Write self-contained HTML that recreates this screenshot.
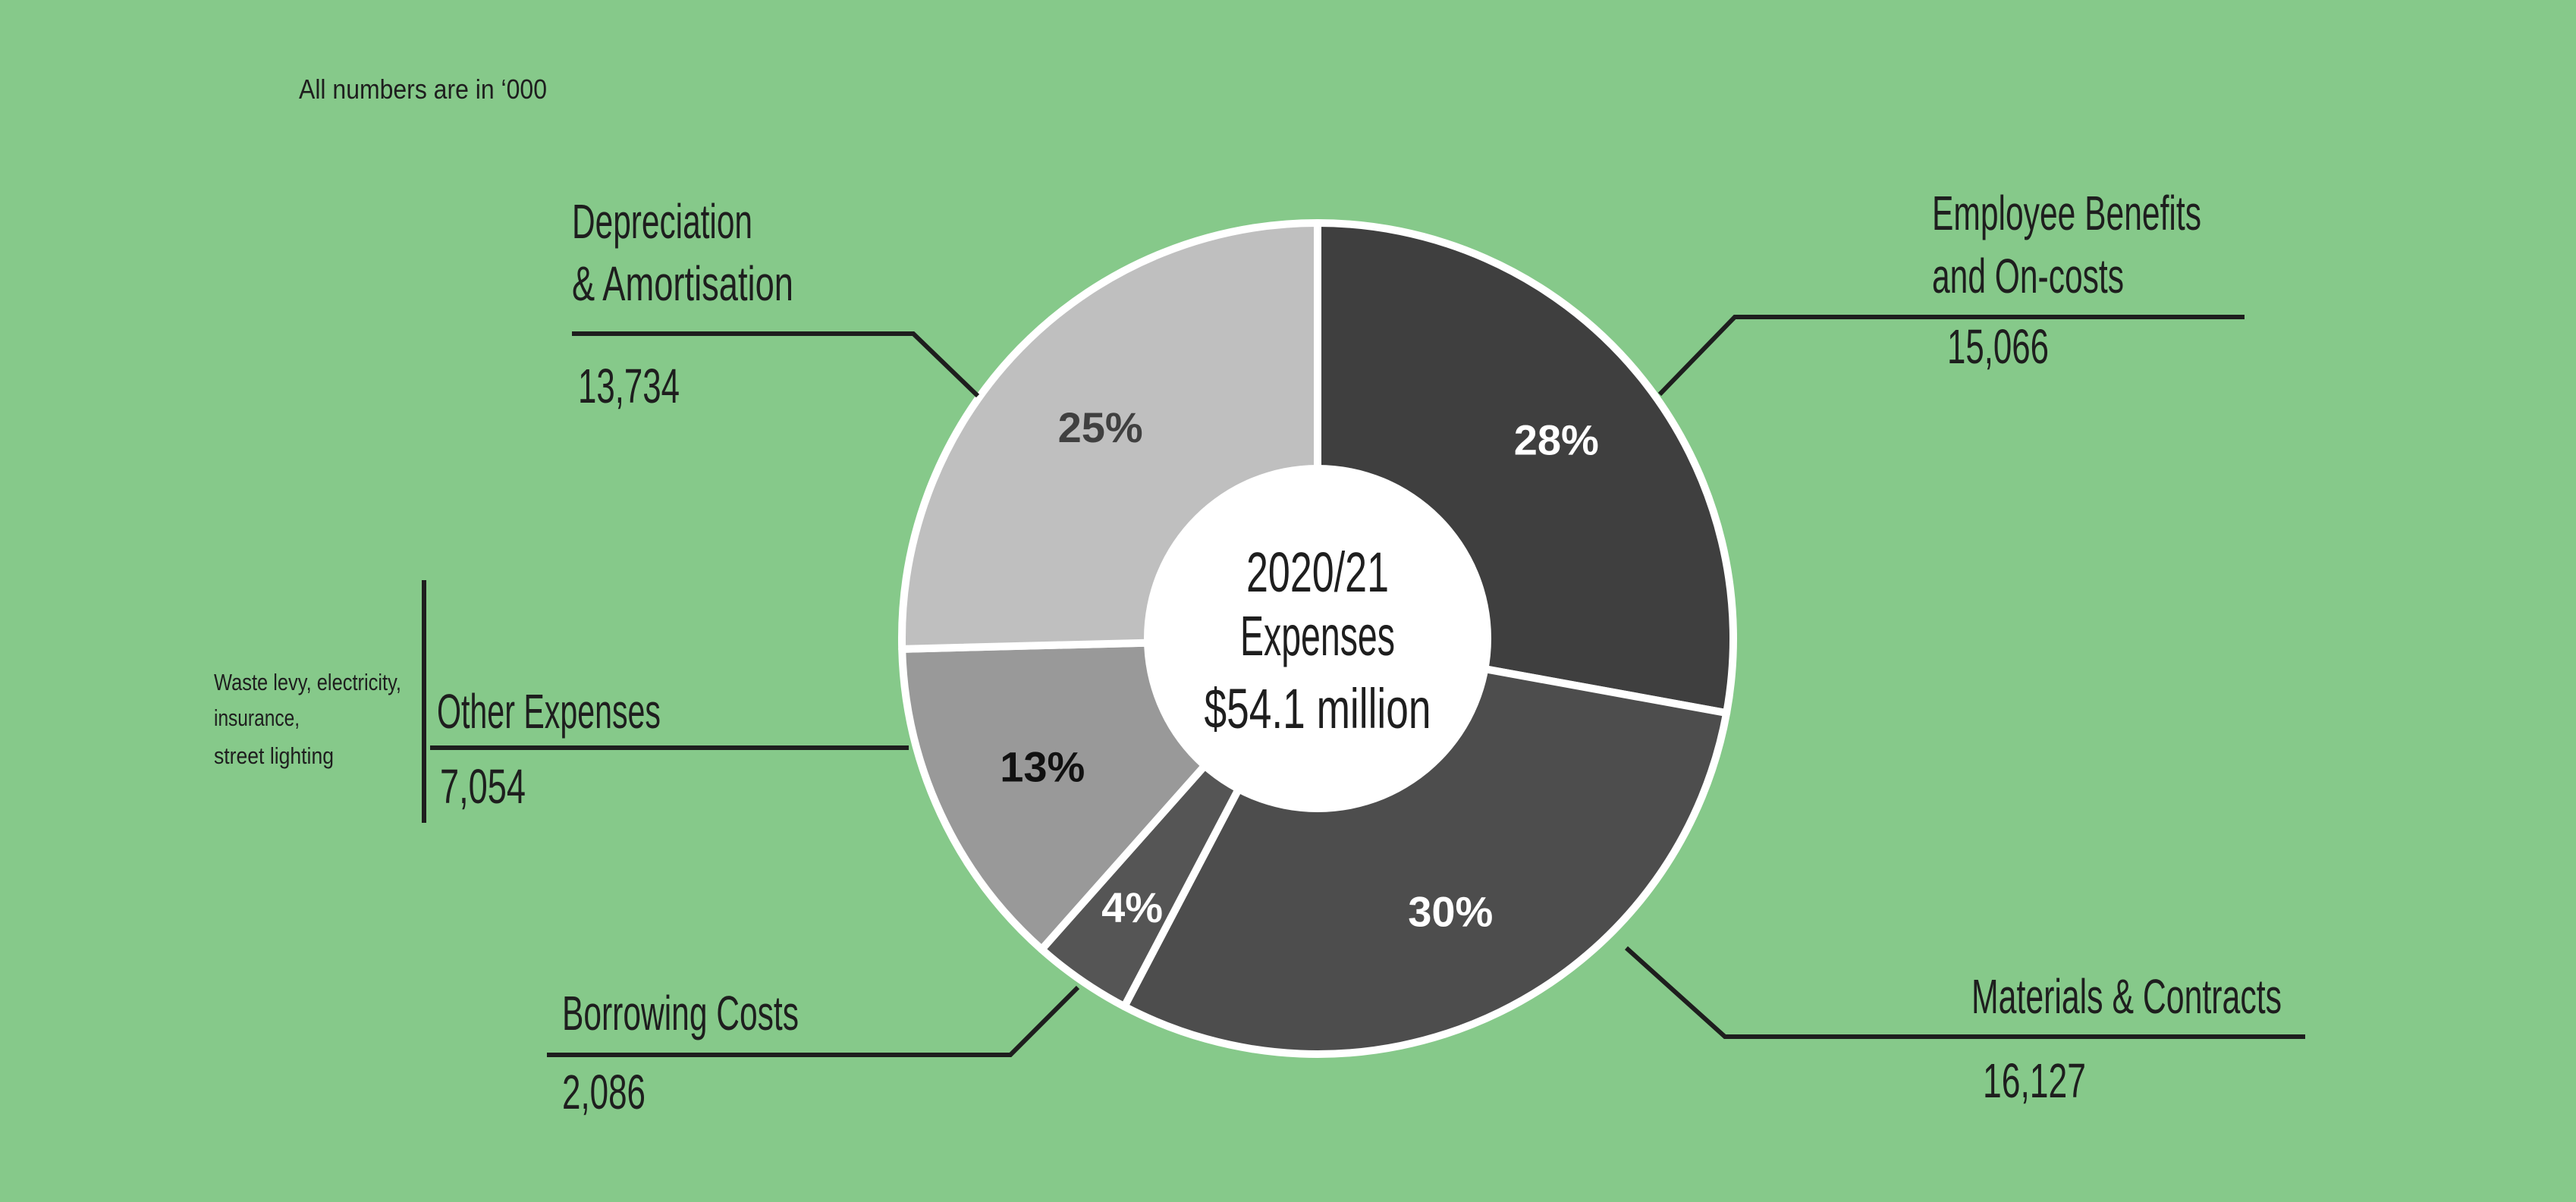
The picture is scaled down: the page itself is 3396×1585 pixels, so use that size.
<!DOCTYPE html>
<html><head><meta charset="utf-8"><style>
html,body{margin:0;padding:0;background:#86c98a;}
svg{display:block;}
.l{font-family:"Liberation Sans Narrow","Liberation Sans",sans-serif;fill:#1e1e1e;}
.p{font-family:"Liberation Sans",sans-serif;font-weight:bold;font-size:56px;text-anchor:middle;}
</style></head><body>
<svg id="chart" width="3396" height="1585" viewBox="0 0 3396 1585" xmlns="http://www.w3.org/2000/svg">
<rect width="3396" height="1585" fill="#86c98a"/>
<g id="slices"></g>
<circle cx="1737" cy="842" r="229" fill="#ffffff"/>
<g id="pcts"></g>

<text class="l" x="394" y="130" font-size="36" textLength="327" lengthAdjust="spacingAndGlyphs">All numbers are in ‘000</text>

<g font-size="74">
<text class="l" x="1737" y="780" text-anchor="middle" textLength="188" lengthAdjust="spacingAndGlyphs">2020/21</text>
<text class="l" x="1737" y="864" text-anchor="middle" textLength="204" lengthAdjust="spacingAndGlyphs">Expenses</text>
<text class="l" x="1737" y="960" text-anchor="middle" textLength="299" lengthAdjust="spacingAndGlyphs">$54.1 million</text>
</g>

<g fill="none" stroke="#1e1e1e" stroke-width="6">
<polyline points="754,440 1204,440 1289,522"/>
<polyline points="2188,520 2287,418 2959,418"/>
<line x1="559" y1="765" x2="559" y2="1085"/>
<line x1="567" y1="986" x2="1198" y2="986"/>
<polyline points="721,1391 1332,1391 1421,1302"/>
<polyline points="2144,1250 2274,1367 3039,1367"/>
</g>

<g font-size="64">
<text class="l" x="754" y="314" textLength="238" lengthAdjust="spacingAndGlyphs">Depreciation</text>
<text class="l" x="754" y="396" textLength="292" lengthAdjust="spacingAndGlyphs">&amp; Amortisation</text>
<text class="l" x="762" y="531" textLength="134" lengthAdjust="spacingAndGlyphs">13,734</text>
<text class="l" x="2547" y="303" textLength="355" lengthAdjust="spacingAndGlyphs">Employee Benefits</text>
<text class="l" x="2547" y="386" textLength="253" lengthAdjust="spacingAndGlyphs">and On-costs</text>
<text class="l" x="2567" y="479" textLength="134" lengthAdjust="spacingAndGlyphs">15,066</text>
<text class="l" x="576" y="960" textLength="295" lengthAdjust="spacingAndGlyphs">Other Expenses</text>
<text class="l" x="580" y="1059" textLength="113" lengthAdjust="spacingAndGlyphs">7,054</text>
<text class="l" x="741" y="1358" textLength="312" lengthAdjust="spacingAndGlyphs">Borrowing Costs</text>
<text class="l" x="741" y="1462" textLength="110" lengthAdjust="spacingAndGlyphs">2,086</text>
<text class="l" x="2599" y="1336" textLength="409" lengthAdjust="spacingAndGlyphs">Materials &amp; Contracts</text>
<text class="l" x="2614" y="1447" textLength="136" lengthAdjust="spacingAndGlyphs">16,127</text>
</g>
<g font-size="31">
<text class="l" x="282" y="910" textLength="247" lengthAdjust="spacingAndGlyphs">Waste levy, electricity,</text>
<text class="l" x="282" y="957" textLength="113" lengthAdjust="spacingAndGlyphs">insurance,</text>
<text class="l" x="282" y="1007" textLength="158" lengthAdjust="spacingAndGlyphs">street lighting</text>
</g>
</svg>
<script>
const categories = ["Employee Benefits and On-costs","Materials & Contracts","Borrowing Costs","Other Expenses","Depreciation & Amortisation"];
const values = [15066, 16127, 2086, 7054, 13734];
const pctLabels = ["28%","30%","4%","13%","25%"];
const colors = ["#3f3f3f","#4d4d4d","#555555","#999999","#bfbfbf"];
const labelColors = ["#ffffff","#ffffff","#ffffff","#111111","#404040"];
const labelRadius = [410, 400, 430, 400, 400];

const NS = "http://www.w3.org/2000/svg";
const cx = 1737, cy = 842, R = 548;
const total = values.reduce((a,b)=>a+b,0);
function pt(a, r){ return [cx + r*Math.sin(a), cy - r*Math.cos(a)]; }
const gS = document.getElementById('slices');
const gP = document.getElementById('pcts');
let acc = 0;
values.forEach((v,i)=>{
  const a0 = acc/total*2*Math.PI; acc += v;
  const a1 = acc/total*2*Math.PI;
  const p0 = pt(a0,R), p1 = pt(a1,R);
  const large = (a1-a0) > Math.PI ? 1 : 0;
  const path = document.createElementNS(NS,'path');
  path.setAttribute('d',`M${cx},${cy} L${p0[0]},${p0[1]} A${R},${R} 0 ${large} 1 ${p1[0]},${p1[1]} Z`);
  path.setAttribute('fill',colors[i]);
  path.setAttribute('stroke','#ffffff');
  path.setAttribute('stroke-width','10');
  path.setAttribute('stroke-linejoin','round');
  
  
  gS.appendChild(path);
  const am = (a0+a1)/2;
  const lp = pt(am, labelRadius[i]);
  const t = document.createElementNS(NS,'text');
  t.setAttribute('class','p');
  t.setAttribute('x',lp[0]);
  t.setAttribute('y',lp[1]+20);
  t.setAttribute('fill',labelColors[i]);
  t.textContent = pctLabels[i];
  
  
  gP.appendChild(t);
});
</script>
</body></html>
